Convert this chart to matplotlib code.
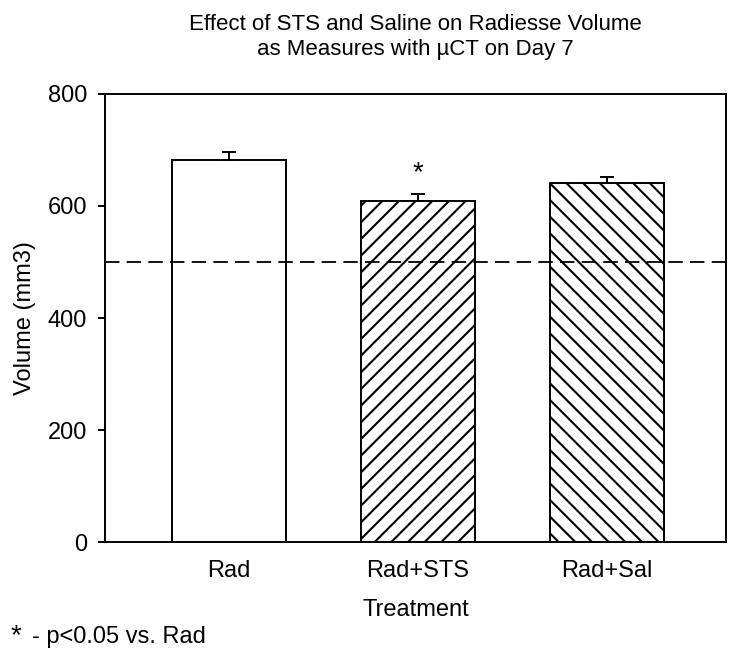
import matplotlib
matplotlib.use("Agg")
import matplotlib.pyplot as plt
import numpy as np

plt.rcParams["font.family"] = ["Liberation Sans", "DejaVu Sans"]
plt.rcParams["hatch.linewidth"] = 1.5

treatments = ["Rad", "Rad+STS", "Rad+Sal"]
volumes = [682, 609, 641]
errors = [14, 12, 10]
hatches = ["", "//", "\\\\"]
reference_level = 500
star_offset = 38

fs = 17

fig = plt.figure(figsize=(7.35, 6.55), dpi=100)
ax = fig.add_axes([0.1429, 0.1725, 0.845, 0.684])

x = np.arange(len(treatments))
for xi, v, h in zip(x, volumes, hatches):
    ax.bar(xi, v, width=0.603, color="white", edgecolor="black", linewidth=1.4, hatch=h)
ax.errorbar(x, volumes, yerr=[np.zeros(len(x)), errors], fmt="none",
            ecolor="black", elinewidth=1.4, capsize=4.7, capthick=1.4)

ax.axhline(reference_level, color="black", linestyle=(0, (8, 4)), linewidth=1.3)
ax.text(x[1], volumes[1] + errors[1] + star_offset, "*", ha="center", va="center", fontsize=20)

ax.set_xlim(-0.656, 2.63)
ax.set_ylim(0, 800)
ax.set_yticks([0, 200, 400, 600, 800])
ax.set_xticks(x)
ax.set_xticklabels(treatments, fontsize=fs)
ax.tick_params(axis="x", length=0, pad=13)
ax.tick_params(axis="y", labelsize=fs, length=5, width=1.4, pad=8, direction="out")
for s in ax.spines.values():
    s.set_linewidth(1.4)

ax.set_xlabel("Treatment", fontsize=fs, labelpad=12)
ax.set_ylabel("Volume (mm3)", fontsize=fs, labelpad=8)

cx = 0.1429 + 0.845 / 2
fig.text(cx, 1 - 30 / 655, "Effect of STS and Saline on Radiesse Volume",
         ha="center", va="baseline", fontsize=16)
fig.text(cx, 1 - 55 / 655, "as Measures with µCT on Day 7",
         ha="center", va="baseline", fontsize=16)

fig.text(11 / 735, 12 / 655, "*", fontsize=20, va="baseline")
fig.text(32 / 735, 12 / 655, "- p<0.05 vs. Rad", fontsize=fs, va="baseline")

fig.savefig("out.png", dpi=100)
